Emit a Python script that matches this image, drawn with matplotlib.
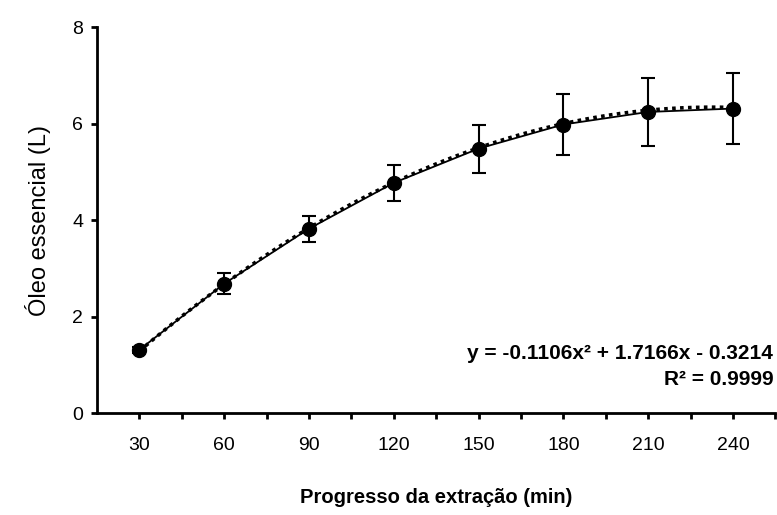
import numpy as np
import matplotlib
matplotlib.use("Agg")
import matplotlib.pyplot as plt

plt.rcParams['font.family'] = ['Liberation Sans', 'DejaVu Sans']

# data
tempo = [30, 60, 90, 120, 150, 180, 210, 240]
oleo = [1.31, 2.68, 3.82, 4.77, 5.48, 5.98, 6.24, 6.31]
erro = [0.06, 0.22, 0.27, 0.37, 0.50, 0.63, 0.70, 0.73]

# polynomial trendline from the chart (x = point index 1..8)
coef = [-0.1106, 1.7166, -0.3214]
r2 = 0.9999

fig = plt.figure(figsize=(7.77, 5.15), dpi=100)
ax = fig.add_axes([0.1248, 0.198, 0.873, 0.7495])

# trendline
xt = np.linspace(1, len(tempo), 200)
ax.plot(xt * 30, np.polyval(coef, xt), color='black', linestyle=(0, (1, 1.2)), linewidth=2.6)

# data with error bars
ax.errorbar(tempo, oleo, yerr=erro, color='black', marker='o', markersize=10,
            linewidth=1.3, elinewidth=1.5, capsize=5, capthick=1.5)

ax.set_xlim(15, 255)
ax.set_ylim(0, 8)
ax.set_xticks(tempo)
ax.set_xticks([45, 75, 105, 135, 165, 195, 225, 255], minor=True)
ax.set_yticks([0, 2, 4, 6, 8])

for s in ['top', 'right']:
    ax.spines[s].set_visible(False)
for s in ['left', 'bottom']:
    ax.spines[s].set_linewidth(2)

ax.tick_params(axis='both', which='both', direction='out', length=4, width=2, labelsize=14)
ax.tick_params(axis='x', pad=13)
ax.tick_params(axis='y', pad=6)

ax.set_xlabel("Progresso da extração (min)", fontsize=14.5, fontweight='bold', labelpad=25)
ax.set_ylabel("Óleo essencial (L)", fontsize=17, labelpad=15)

eq = f"y = {coef[0]:.4f}x² + {coef[1]:.4f}x - {abs(coef[2]):.4f}\nR² = {r2:.4f}"
ax.text(0.997, 0.18, eq, transform=ax.transAxes, ha='right', va='top',
        fontsize=15, fontweight='bold', linespacing=1.5)

fig.savefig("out.png", dpi=100)
